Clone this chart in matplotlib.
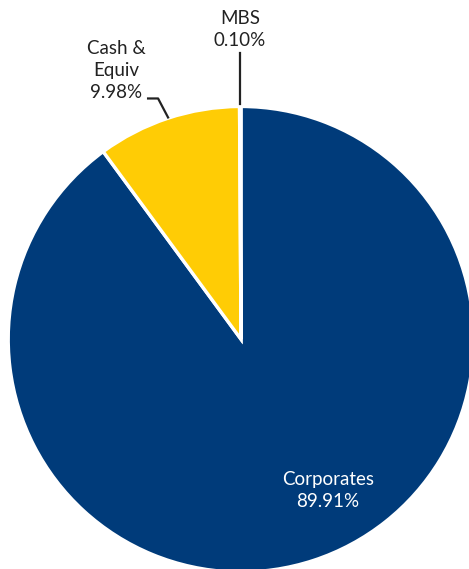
import matplotlib
matplotlib.use("Agg")
import matplotlib.pyplot as plt

# slice data, clockwise from 12 o'clock
labels = ["Corporates", "Cash &\nEquiv", "MBS"]
shares = [89.91, 9.98, 0.10]
colors = ["#003B7A", "#FFCC05", "#FFFFFF"]

plt.rcParams["font.family"] = ["Lato", "DejaVu Sans"]

W, H = 469, 569
fig = plt.figure(figsize=(W / 100, H / 100), dpi=100)
ax = fig.add_axes([0, 0, 1, 0.999])

cx, cy, r = 241, H - 339, 233
ax.pie(
    shares,
    colors=colors,
    startangle=90,
    counterclock=False,
    center=(cx, cy),
    radius=r,
    wedgeprops=dict(edgecolor="white", linewidth=2.4),
    frame=True,
)
ax.set_xlim(0, W)
ax.set_ylim(0, H)
ax.set_aspect("equal")
ax.axis("off")

txt = dict(fontsize=13.5, ha="center", va="center", linespacing=1.35)

# MBS label and leader
ax.text(240, H - 29, f"{labels[2]}\n{shares[2]:.2f}%", color="#222222", **txt)
ax.plot([240, 240], [H - 52, H - 104], color="#222222", lw=1.6)

# Cash label and leader
ax.text(116, H - 70, f"{labels[1]}\n{shares[1]:.2f}%", color="#222222", **txt)
ax.plot([148, 158, 168], [H - 98, H - 98, H - 117], color="#222222", lw=1.6)

# Corporates label inside
ax.text(328, H - 490, f"{labels[0]}\n{shares[0]:.2f}%", color="white", **txt)

fig.savefig("out.png", dpi=100)
